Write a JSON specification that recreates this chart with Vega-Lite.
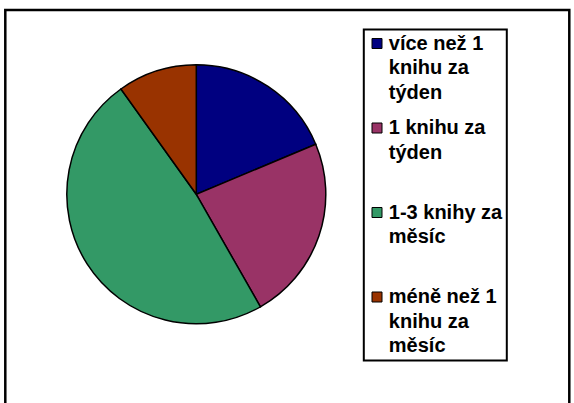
{
  "$schema": "https://vega.github.io/schema/vega-lite/v6.json",
  "width": 564,
  "height": 400,
  "autosize": {"type": "none"},
  "padding": {"left": 5.3, "top": 10, "right": 4.7, "bottom": 0},
  "background": "white",
  "config": {"view": {"stroke": null}},
  "layer": [
    {
      "data": {"values": [{"ramecek": "graf"}]},
      "mark": {"type": "rect", "fill": "white", "fillOpacity": 0, "stroke": "black", "strokeWidth": 2.5},
      "encoding": {}
    },
    {
      "data": {
        "values": [
          {"kategorie": "více než 1 knihu za týden", "pocet": 17, "poradi": 1},
          {"kategorie": "1 knihu za týden", "pocet": 21, "poradi": 2},
          {"kategorie": "1-3 knihy za měsíc", "pocet": 44, "poradi": 3},
          {"kategorie": "méně než 1 knihu za měsíc", "pocet": 9, "poradi": 4}
        ]
      },
      "mark": {"type": "arc", "x": 191, "y": 184.3, "outerRadius": 129.5, "stroke": "black", "strokeWidth": 1.5},
      "encoding": {
        "theta": {"field": "pocet", "type": "quantitative", "stack": true},
        "order": {"field": "poradi", "type": "quantitative"},
        "color": {
          "field": "kategorie",
          "type": "nominal",
          "scale": {
            "domain": ["více než 1 knihu za týden", "1 knihu za týden", "1-3 knihy za měsíc", "méně než 1 knihu za měsíc"],
            "range": ["#000080", "#993366", "#339966", "#993300"]
          },
          "legend": {
            "title": null,
            "orient": "none",
            "legendX": 358.5,
            "legendY": 19.5,
            "direction": "vertical",
            "columns": 1,
            "padding": 4,
            "strokeColor": "black",
            "symbolType": "square",
            "symbolSize": 100,
            "symbolStrokeColor": "black",
            "symbolStrokeWidth": 1,
            "symbolOpacity": 1,
            "symbolOffset": -0.8,
            "labelFont": "Liberation Sans",
            "labelFontSize": 20,
            "labelFontWeight": "bold",
            "labelColor": "black",
            "labelOffset": 1.8,
            "labelLimit": 300,
            "rowPadding": 15.5,
            "gridAlign": "all",
            "labelExpr": "datum.label == 'více než 1 knihu za týden' ? ['více než 1', 'knihu za', 'týden'] : datum.label == '1 knihu za týden' ? ['1 knihu za', 'týden'] : datum.label == '1-3 knihy za měsíc' ? ['1-3 knihy za', 'měsíc'] : ['méně než 1', 'knihu za', 'měsíc']",
            "encode": {
              "labels": {"update": {"lineHeight": {"value": 24.5}}},
              "legend": {"update": {"strokeWidth": {"value": 2}}}
            }
          }
        }
      }
    }
  ]
}
